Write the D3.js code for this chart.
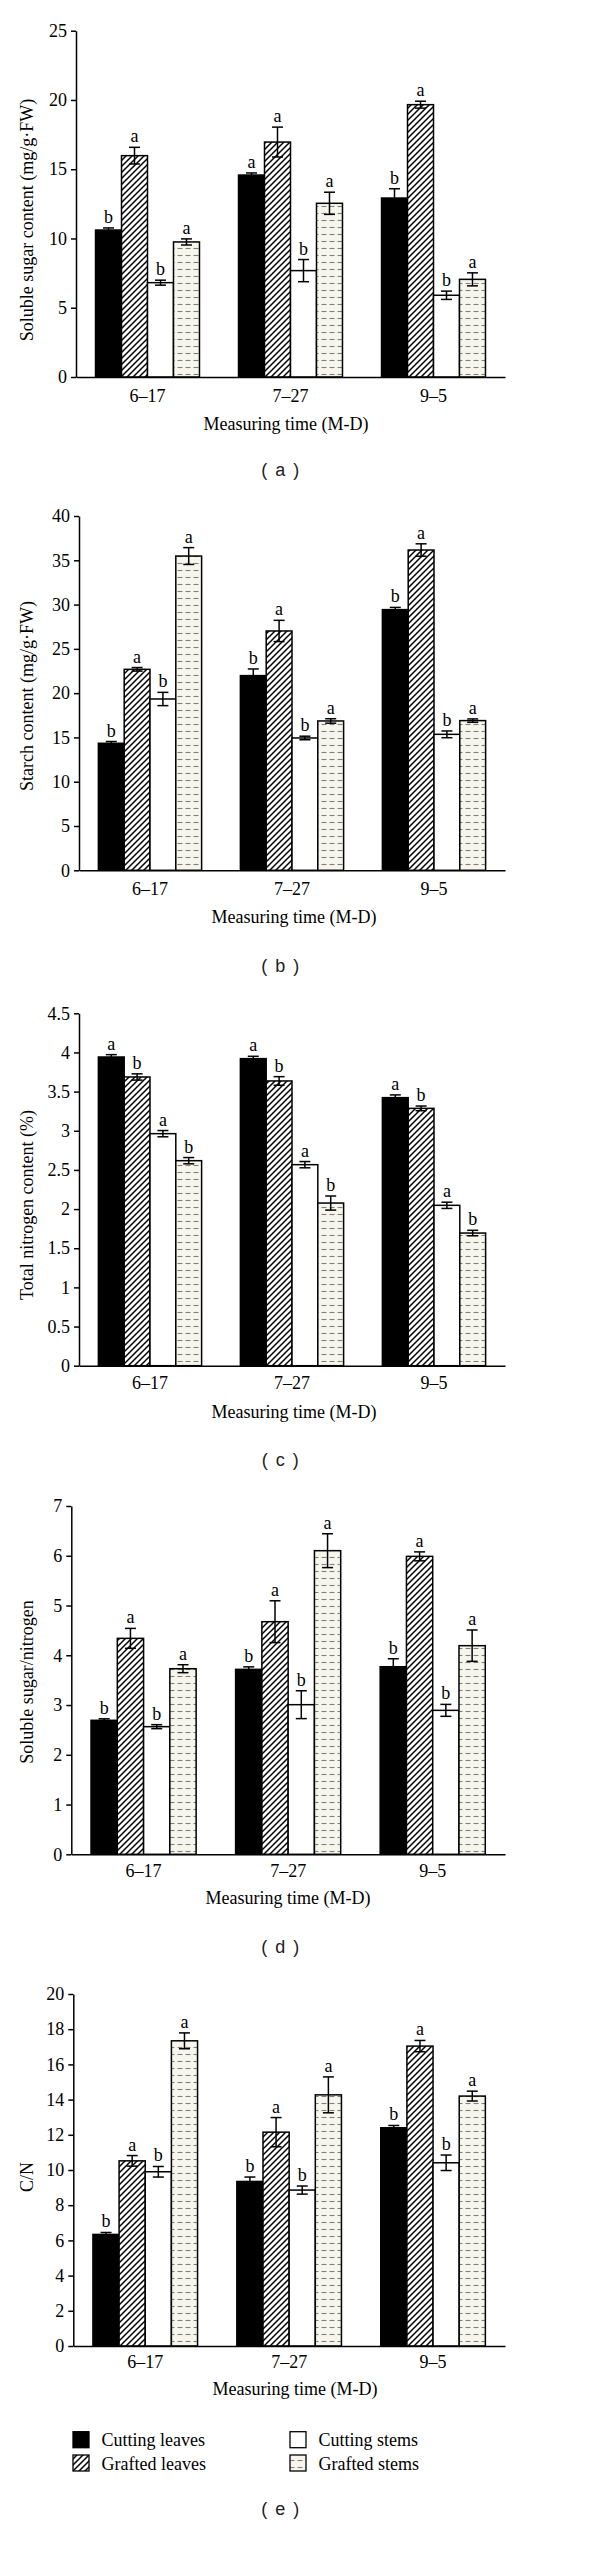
<!DOCTYPE html>
<html><head><meta charset="utf-8">
<script src="https://cdn.jsdelivr.net/npm/d3@7"></script>
<style>body{margin:0;background:#fff}svg{display:block}</style>
</head><body>
<svg id="chart" width="600" height="2564"></svg>
<script>
// ---------------- DATA ----------------
const categories = ["6–17", "7–27", "9–5"];
const seriesNames = ["Cutting leaves", "Grafted leaves", "Cutting stems", "Grafted stems"];

// (a) Soluble sugar content, rows = categories, cols = series
const sugarValues  = [[10.61, 15.98, 6.81, 9.75], [14.58, 16.96, 7.68, 12.54], [12.92, 19.66, 5.90, 7.05]];
const sugarErrors  = [[0.15, 0.60, 0.18, 0.22], [0.15, 1.08, 0.80, 0.80], [0.67, 0.25, 0.30, 0.47]];
const sugarLetters = [["b", "a", "b", "a"], ["a", "a", "b", "a"], ["b", "a", "b", "a"]];
const sugarTicks   = [0, 5, 10, 15, 20, 25];

// (b) Starch content
const starchValues  = [[14.34, 22.69, 19.34, 35.48], [21.98, 27.02, 14.94, 16.86], [29.43, 36.16, 15.35, 16.90]];
const starchErrors  = [[0.20, 0.20, 0.75, 0.95], [0.75, 1.20, 0.20, 0.25], [0.25, 0.70, 0.38, 0.19]];
const starchLetters = [["b", "a", "b", "a"], ["b", "a", "b", "a"], ["b", "a", "b", "a"]];
const starchTicks   = [0, 5, 10, 15, 20, 25, 30, 35, 40];

// (c) Total nitrogen content
const nitrogenValues  = [[3.942, 3.687, 2.963, 2.618], [3.921, 3.636, 2.567, 2.077], [3.423, 3.286, 2.048, 1.694]];
const nitrogenErrors  = [[0.03, 0.04, 0.04, 0.04], [0.03, 0.055, 0.04, 0.09], [0.035, 0.03, 0.04, 0.035]];
const nitrogenLetters = [["a", "b", "a", "b"], ["a", "b", "a", "b"], ["a", "b", "a", "b"]];
const nitrogenTicks   = [0, 0.5, 1, 1.5, 2, 2.5, 3, 3.5, 4, 4.5];

// (d) Soluble sugar / nitrogen
const ratioValues  = [[2.693, 4.34, 2.565, 3.73], [3.717, 4.675, 3.007, 6.102], [3.77, 5.988, 2.893, 4.193]];
const ratioErrors  = [[0.03, 0.20, 0.04, 0.08], [0.05, 0.42, 0.28, 0.34], [0.16, 0.09, 0.12, 0.315]];
const ratioLetters = [["b", "a", "b", "a"], ["b", "a", "b", "a"], ["b", "a", "b", "a"]];
const ratioTicks   = [0, 1, 2, 3, 4, 5, 6, 7];

// (e) C/N
const cnValues  = [[6.34, 10.52, 9.90, 17.34], [9.35, 12.15, 8.86, 14.27], [12.40, 17.04, 10.41, 14.20]];
const cnErrors  = [[0.11, 0.30, 0.30, 0.45], [0.25, 0.83, 0.23, 1.02], [0.13, 0.32, 0.44, 0.28]];
const cnLetters = [["b", "a", "b", "a"], ["b", "a", "b", "a"], ["b", "a", "b", "a"]];
const cnTicks   = [0, 2, 4, 6, 8, 10, 12, 14, 16, 18, 20];

const xTitle = "Measuring time (M-D)";

// ---------------- DRAWING ----------------
const SERIF = "'Liberation Serif','Times New Roman',serif";
const SANS = "'Liberation Sans',Arial,sans-serif";
const FS = 18;
const SW = 1.5;
const svg = d3.select("#chart");
const defs = svg.append("defs");

// diagonal hatch pattern
const hatch = defs.append("pattern").attr("id", "hatch").attr("patternUnits", "userSpaceOnUse")
  .attr("width", 6).attr("height", 6);
hatch.append("rect").attr("width", 6).attr("height", 6).attr("fill", "#fff");
hatch.append("path").attr("d", "M-1,1 l2,-2 M0,6 l6,-6 M5,7 l2,-2")
  .attr("stroke", "#000").attr("stroke-width", 1.5).attr("fill", "none");

// dashed pattern
const dash = defs.append("pattern").attr("id", "dash").attr("patternUnits", "userSpaceOnUse")
  .attr("width", 8).attr("height", 7);
dash.append("rect").attr("width", 8).attr("height", 7).attr("fill", "#f6f6ec");
dash.append("line").attr("x1", 1.5).attr("x2", 6.5).attr("y1", 3.5).attr("y2", 3.5)
  .attr("stroke", "#808080").attr("stroke-width", 1.1);

const fills = ["#000", "url(#hatch)", "#fff", "url(#dash)"];
const fillScale = d3.scaleOrdinal().domain(seriesNames).range(fills);

function drawPanel(p) {
  const g = svg.append("g");
  const x0 = d3.scaleBand().domain(categories).range([p.axisX, p.right])
    .paddingInner(0.273).paddingOuter(0.1365);
  const x1 = d3.scaleBand().domain(seriesNames).range([0, x0.bandwidth()]);
  const y = d3.scaleLinear().domain([0, d3.max(p.ticks)]).range([p.base, p.top]);

  // bars
  categories.forEach((c, i) => {
    seriesNames.forEach((s, j) => {
      const v = p.values[i][j];
      g.append("rect")
        .attr("x", x0(c) + x1(s)).attr("y", y(v))
        .attr("width", x1.bandwidth()).attr("height", y(0) - y(v))
        .attr("fill", fillScale(s)).attr("stroke", "#000").attr("stroke-width", SW);
    });
  });
  // error bars + letters
  categories.forEach((c, i) => {
    seriesNames.forEach((s, j) => {
      const v = p.values[i][j], e = p.errors[i][j];
      const cx = x0(c) + x1(s) + x1.bandwidth() / 2;
      const eb = g.append("g").attr("stroke", "#000").attr("stroke-width", SW);
      eb.append("line").attr("x1", cx).attr("x2", cx).attr("y1", y(v - e)).attr("y2", y(v + e));
      eb.append("line").attr("x1", cx - 5.5).attr("x2", cx + 5.5).attr("y1", y(v + e)).attr("y2", y(v + e));
      eb.append("line").attr("x1", cx - 5.5).attr("x2", cx + 5.5).attr("y1", y(v - e)).attr("y2", y(v - e));
      g.append("text").attr("x", cx).attr("y", y(v + e) - 5)
        .attr("text-anchor", "middle").attr("font-family", SERIF).attr("font-size", FS)
        .attr("fill", "#000").text(p.letters[i][j]);
    });
  });

  // y axis
  const ya = g.append("g").attr("transform", `translate(${p.axisX},0)`)
    .call(d3.axisLeft(y).tickValues(p.ticks).tickFormat(d3.format("~g"))
      .tickSize(5).tickSizeOuter(0).tickPadding(4));
  ya.attr("font-family", SERIF).attr("font-size", FS);
  ya.selectAll("path,line").attr("stroke", "#000").attr("stroke-width", SW);
  ya.selectAll("text").attr("fill", "#000");

  // x axis
  const xa = g.append("g").attr("transform", `translate(0,${p.base})`)
    .call(d3.axisBottom(x0).tickSize(0).tickSizeOuter(0).tickPadding(p.xLabelBase - p.base - 0.71 * FS));
  xa.attr("font-family", SERIF).attr("font-size", FS);
  xa.select("path").attr("stroke", "#000").attr("stroke-width", SW);
  xa.selectAll("text").attr("fill", "#000");

  // titles
  g.append("text").attr("x", p.titleX).attr("y", p.titleBase).attr("text-anchor", "middle")
    .attr("font-family", SERIF).attr("font-size", FS).attr("fill", "#000").text(xTitle);
  g.append("text").attr("transform", `translate(33,${p.yTitleY}) rotate(-90)`)
    .attr("text-anchor", "middle").attr("font-family", SERIF).attr("font-size", FS)
    .attr("fill", "#000").text(p.yTitle);
  g.append("text").attr("x", 281).attr("y", p.subBase).attr("text-anchor", "middle")
    .attr("font-family", SANS).attr("font-size", 18).attr("letter-spacing", 1.5)
    .attr("fill", "#222").text(p.sub);
}

drawPanel({ values: sugarValues, errors: sugarErrors, letters: sugarLetters, ticks: sugarTicks,
  axisX: 76, right: 505, top: 30.7, base: 377, xLabelBase: 402.3, titleBase: 430, titleX: 286,
  yTitle: "Soluble sugar content (mg/g·FW)", yTitleY: 220, sub: "( a )", subBase: 476 });
drawPanel({ values: starchValues, errors: starchErrors, letters: starchLetters, ticks: starchTicks,
  axisX: 79, right: 505, top: 516, base: 870.3, xLabelBase: 895, titleBase: 923.3, titleX: 294,
  yTitle: "Starch content (mg/g·FW)", yTitleY: 696, sub: "( b )", subBase: 971.7 });
drawPanel({ values: nitrogenValues, errors: nitrogenErrors, letters: nitrogenLetters, ticks: nitrogenTicks,
  axisX: 79, right: 505, top: 1013.3, base: 1365.7, xLabelBase: 1389.3, titleBase: 1418.3, titleX: 294,
  yTitle: "Total nitrogen content (%)", yTitleY: 1205, sub: "( c )", subBase: 1466 });
drawPanel({ values: ratioValues, errors: ratioErrors, letters: ratioLetters, ticks: ratioTicks,
  axisX: 71.3, right: 505, top: 1506, base: 1854.3, xLabelBase: 1876.7, titleBase: 1904, titleX: 288,
  yTitle: "Soluble sugar/nitrogen", yTitleY: 1682, sub: "( d )", subBase: 1953.3 });
drawPanel({ values: cnValues, errors: cnErrors, letters: cnLetters, ticks: cnTicks,
  axisX: 73.3, right: 505, top: 1994, base: 2346, xLabelBase: 2368.3, titleBase: 2395, titleX: 295,
  yTitle: "C/N", yTitleY: 2177, sub: "( e )", subBase: 2515 });

// legend
const legendPos = [[73, 2431.7], [73, 2455], [290, 2431.7], [290, 2455]];
const legend = svg.append("g");
seriesNames.forEach((s, i) => {
  const [lx, ly] = legendPos[i];
  legend.append("rect").attr("x", lx).attr("y", ly).attr("width", 16).attr("height", 16)
    .attr("fill", fillScale(s)).attr("stroke", "#000").attr("stroke-width", 1.3);
  legend.append("text").attr("x", lx + 28.5).attr("y", ly + 14.5)
    .attr("font-family", SERIF).attr("font-size", FS).attr("fill", "#000").text(s);
});
</script>
</body></html>
